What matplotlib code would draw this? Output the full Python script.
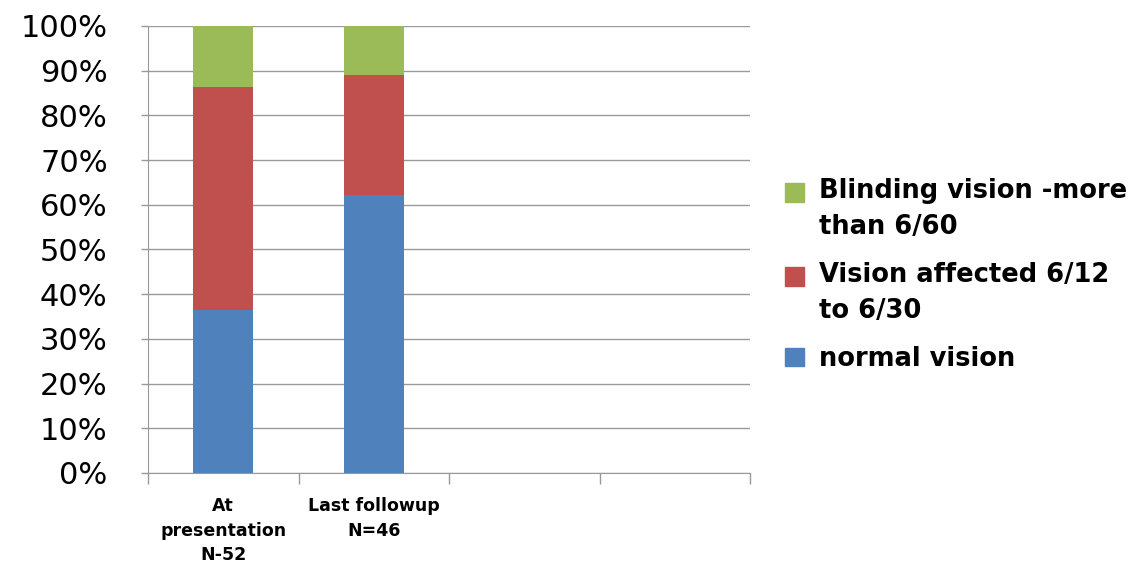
import numpy as np
import matplotlib.pyplot as plt
from matplotlib.patches import Patch, Rectangle
from matplotlib.legend_handler import HandlerPatch

# data (percent of patients)
categories = ['At\npresentation\nN-52', 'Last followup\nN=46']
normal = [36.5, 62.2]
affected = [49.9, 26.8]
blinding = [13.6, 11.0]
n_slots = 4  # axis has room for 4 categories, only 2 used

series = ['normal vision', 'Vision affected 6/12\nto 6/30', 'Blinding vision -more\nthan 6/60']
colors = ['#4F81BD', '#C0504D', '#9BBB59']

fig = plt.figure(figsize=(11.47, 5.65), dpi=100)
ax = fig.add_axes([0.129, 0.163, 0.525, 0.791])

x = np.arange(len(categories))
bottom = np.zeros(len(categories))
for vals, c in zip([normal, affected, blinding], colors):
    ax.bar(x, vals, 0.4, bottom=bottom, color=c, zorder=3)
    bottom += np.array(vals)

ax.set_xlim(-0.5, n_slots - 0.5)
ax.set_ylim(0, 100)
ax.set_yticks(np.arange(0, 101, 10))
ax.set_yticklabels(['%d%%' % v for v in range(0, 101, 10)], fontsize=22)
ax.yaxis.grid(True, color='#999999', linewidth=1, zorder=0)

ax.set_xticks(np.arange(n_slots + 1) - 0.5)
ax.set_xticklabels([])
ax.tick_params(axis='x', length=8, color='#999999', width=1)
ax.tick_params(axis='y', length=5, color='#999999', width=1, pad=24)
for i, lab in enumerate(categories):
    ax.text(i, -5.5, lab, ha='center', va='top', fontsize=12.5, fontweight='bold',
            linespacing=1.45, transform=ax.transData)

for s in ['top', 'right']:
    ax.spines[s].set_visible(False)
for s in ['left', 'bottom']:
    ax.spines[s].set_color('#999999')


# excel puts the legend square next to the first line of a wrapped label
def top_patch(legend, orig_handle, xdescent, ydescent, width, height, fontsize):
    shift = 13 if orig_handle.get_label() == 'wrapped' else 0
    return Rectangle((-xdescent, -ydescent + shift), width, height)


handles = []
for c, s in zip(colors[::-1], series[::-1]):
    handles.append(Patch(color=c, label='wrapped' if '\n' in s else 'single'))
leg = fig.legend(handles, series[::-1], loc='center left', bbox_to_anchor=(0.664, 0.513),
                 frameon=False, handlelength=0.75, handleheight=0.75,
                 handletextpad=0.6, labelspacing=0.85,
                 handler_map={Patch: HandlerPatch(patch_func=top_patch)},
                 prop={'size': 18.5, 'weight': 'semibold'})
for t in leg.get_texts():
    t.set_linespacing(1.5)

fig.savefig('out.png', dpi=100)
